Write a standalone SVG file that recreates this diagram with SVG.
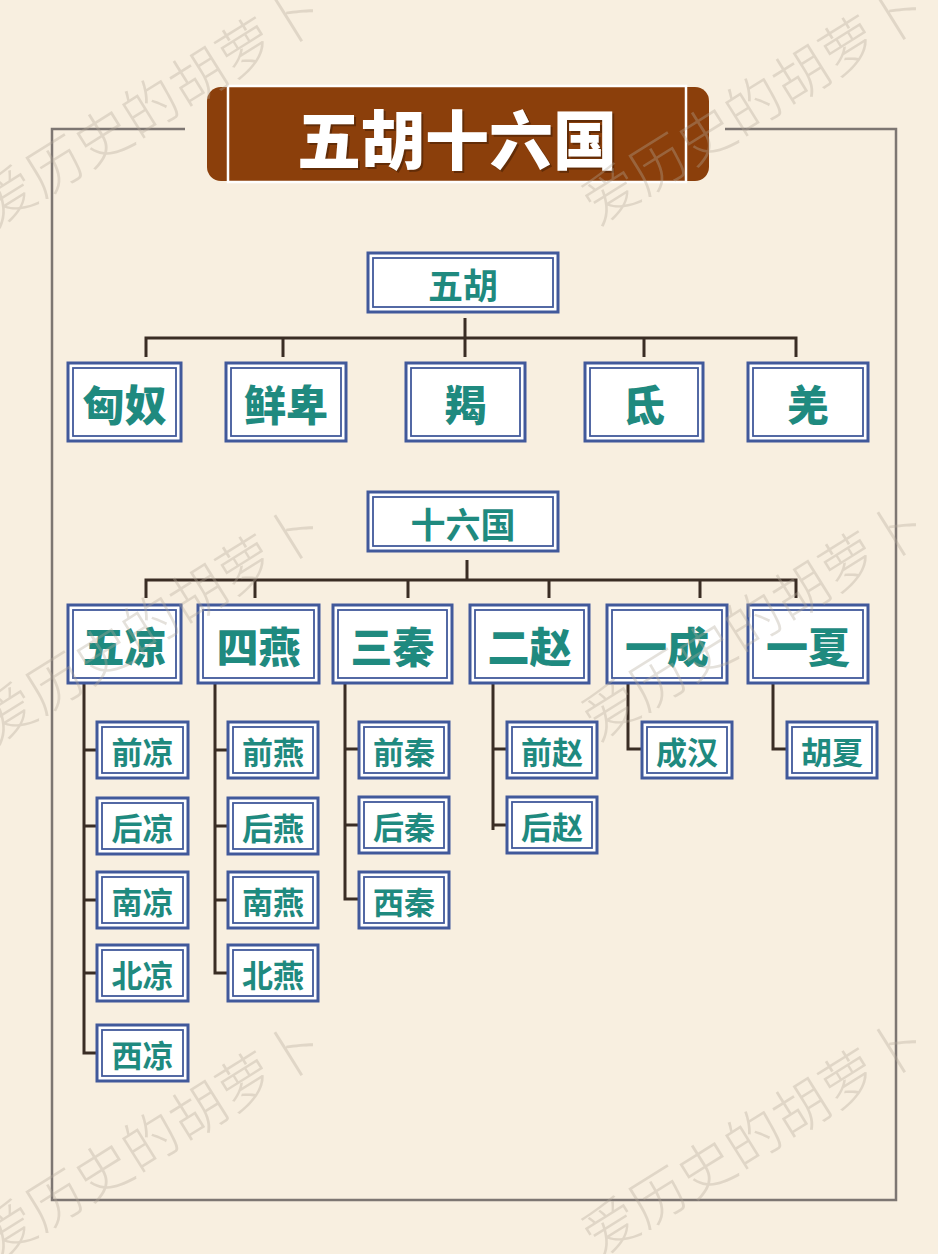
<svg xmlns="http://www.w3.org/2000/svg" width="938" height="1254" viewBox="0 0 938 1254">
<style>
.wm{font-family:"Noto Sans CJK SC","Noto Sans",sans-serif;font-size:56px;font-weight:300;fill:#b5aa9a;opacity:0.35}
.bo{fill:#ffffff;stroke:#41599b;stroke-width:3}
.bi{fill:none;stroke:#41599b;stroke-width:1.8}
.t{font-family:"Noto Sans CJK SC","Noto Sans",sans-serif;font-weight:700;fill:#1f8a7f;text-anchor:middle;dominant-baseline:central}
.t1{font-size:35px}
.t2{font-size:42px;font-weight:900}
.t3{font-size:31px}
.ln{fill:none;stroke:#3a2d24;stroke-width:3}
</style>
<rect x="0" y="0" width="938" height="1254" fill="#f8efe0"/>
<path d="M185 129 H52 V1200 H896 V129 H725" fill="none" stroke="#7d7672" stroke-width="2.5"/>
<g id="title">
<rect x="207" y="87" width="502" height="94" rx="14" fill="#8b3f0b"/>
<rect x="228" y="86" width="458" height="96" fill="#8b3f0b" stroke="#ffffff" stroke-width="2.5"/>
<text x="459" y="138" font-family="'Noto Sans CJK SC','Noto Sans',sans-serif" font-size="64" font-weight="900" fill="#3a1a05" opacity="0.5" text-anchor="middle" dominant-baseline="central">五胡十六国</text>
<text x="457" y="136" font-family="'Noto Sans CJK SC','Noto Sans',sans-serif" font-size="64" font-weight="900" fill="#ffffff" text-anchor="middle" dominant-baseline="central">五胡十六国</text>
</g>
<g id="connectors">
<path class="ln" d="M465 318 V338 M146 357 V338 H796 V357 M283 338 V357 M465 338 V357 M644 338 V357"/>
<path class="ln" d="M467 560 V580 M146 598 V580 H796 V598 M255 580 V598 M408 580 V598 M549 580 V598 M700 580 V598"/>
<path class="ln" d="M84 683 V1053 H97 M84 750 H97 M84 826 H97 M84 900 H97 M84 973 H97"/>
<path class="ln" d="M215 683 V973 H228 M215 750 H228 M215 826 H228 M215 900 H228"/>
<path class="ln" d="M345 683 V899 H359 M345 749 H359 M345 825 H359"/>
<path class="ln" d="M493 683 V830 M493 749 H507 M493 825 H507"/>
<path class="ln" d="M628 683 V749 H642"/>
<path class="ln" d="M773 683 V749 H787"/>
</g>
<g id="n-wuhu"><rect class="bo" x="368" y="253" width="190" height="59"/><rect class="bi" x="373" y="258" width="180" height="49"/><text class="t t1" x="463" y="283">五胡</text></g>
<g id="n-xiongnu"><rect class="bo" x="68" y="363" width="113" height="78"/><rect class="bi" x="73" y="368" width="103" height="68"/><text class="t t2" x="124.5" y="402">匈奴</text></g>
<g id="n-xianbei"><rect class="bo" x="226" y="363" width="120" height="78"/><rect class="bi" x="231" y="368" width="110" height="68"/><text class="t t2" x="286" y="402">鲜卑</text></g>
<g id="n-jie"><rect class="bo" x="406" y="363" width="119" height="78"/><rect class="bi" x="411" y="368" width="109" height="68"/><text class="t t2" x="465.5" y="402">羯</text></g>
<g id="n-di"><rect class="bo" x="585" y="363" width="118" height="78"/><rect class="bi" x="590" y="368" width="108" height="68"/><text class="t t2" x="644" y="402">氐</text></g>
<g id="n-qiang"><rect class="bo" x="748" y="363" width="120" height="78"/><rect class="bi" x="753" y="368" width="110" height="68"/><text class="t t2" x="808" y="402">羌</text></g>
<g id="n-shiliuguo"><rect class="bo" x="368" y="492" width="190" height="59"/><rect class="bi" x="373" y="497" width="180" height="49"/><text class="t t1" x="463" y="522">十六国</text></g>
<g id="n-wuliang"><rect class="bo" x="68" y="605" width="113" height="78"/><rect class="bi" x="73" y="610" width="103" height="68"/><text class="t t2" x="124.5" y="644">五凉</text></g>
<g id="n-siyan"><rect class="bo" x="198" y="605" width="121" height="78"/><rect class="bi" x="203" y="610" width="111" height="68"/><text class="t t2" x="258.5" y="644">四燕</text></g>
<g id="n-sanqin"><rect class="bo" x="333" y="605" width="119" height="78"/><rect class="bi" x="338" y="610" width="109" height="68"/><text class="t t2" x="392.5" y="644">三秦</text></g>
<g id="n-erzhao"><rect class="bo" x="470" y="605" width="119" height="78"/><rect class="bi" x="475" y="610" width="109" height="68"/><text class="t t2" x="529.5" y="644">二赵</text></g>
<g id="n-yicheng"><rect class="bo" x="607" y="605" width="120" height="78"/><rect class="bi" x="612" y="610" width="110" height="68"/><text class="t t2" x="667" y="644">一成</text></g>
<g id="n-yixia"><rect class="bo" x="748" y="605" width="120" height="78"/><rect class="bi" x="753" y="610" width="110" height="68"/><text class="t t2" x="808" y="644">一夏</text></g>
<g id="n-qianliang"><rect class="bo" x="97" y="722" width="91" height="56"/><rect class="bi" x="102" y="727" width="81" height="46"/><text class="t t3" x="142.5" y="750">前凉</text></g>
<g id="n-houliang"><rect class="bo" x="97" y="798" width="91" height="56"/><rect class="bi" x="102" y="803" width="81" height="46"/><text class="t t3" x="142.5" y="826">后凉</text></g>
<g id="n-nanliang"><rect class="bo" x="97" y="872" width="91" height="56"/><rect class="bi" x="102" y="877" width="81" height="46"/><text class="t t3" x="142.5" y="900">南凉</text></g>
<g id="n-beiliang"><rect class="bo" x="97" y="945" width="91" height="56"/><rect class="bi" x="102" y="950" width="81" height="46"/><text class="t t3" x="142.5" y="973">北凉</text></g>
<g id="n-xiliang"><rect class="bo" x="97" y="1025" width="91" height="56"/><rect class="bi" x="102" y="1030" width="81" height="46"/><text class="t t3" x="142.5" y="1053">西凉</text></g>
<g id="n-qianyan"><rect class="bo" x="228" y="722" width="90" height="56"/><rect class="bi" x="233" y="727" width="80" height="46"/><text class="t t3" x="273" y="750">前燕</text></g>
<g id="n-houyan"><rect class="bo" x="228" y="798" width="90" height="56"/><rect class="bi" x="233" y="803" width="80" height="46"/><text class="t t3" x="273" y="826">后燕</text></g>
<g id="n-nanyan"><rect class="bo" x="228" y="872" width="90" height="56"/><rect class="bi" x="233" y="877" width="80" height="46"/><text class="t t3" x="273" y="900">南燕</text></g>
<g id="n-beiyan"><rect class="bo" x="228" y="945" width="90" height="56"/><rect class="bi" x="233" y="950" width="80" height="46"/><text class="t t3" x="273" y="973">北燕</text></g>
<g id="n-qianqin"><rect class="bo" x="359" y="722" width="90" height="56"/><rect class="bi" x="364" y="727" width="80" height="46"/><text class="t t3" x="404" y="750">前秦</text></g>
<g id="n-houqin"><rect class="bo" x="359" y="797" width="90" height="56"/><rect class="bi" x="364" y="802" width="80" height="46"/><text class="t t3" x="404" y="825">后秦</text></g>
<g id="n-xiqin"><rect class="bo" x="359" y="872" width="90" height="56"/><rect class="bi" x="364" y="877" width="80" height="46"/><text class="t t3" x="404" y="900">西秦</text></g>
<g id="n-qianzhao"><rect class="bo" x="507" y="722" width="90" height="56"/><rect class="bi" x="512" y="727" width="80" height="46"/><text class="t t3" x="552" y="750">前赵</text></g>
<g id="n-houzhao"><rect class="bo" x="507" y="797" width="90" height="56"/><rect class="bi" x="512" y="802" width="80" height="46"/><text class="t t3" x="552" y="825">后赵</text></g>
<g id="n-chenghan"><rect class="bo" x="642" y="722" width="90" height="56"/><rect class="bi" x="647" y="727" width="80" height="46"/><text class="t t3" x="687" y="750">成汉</text></g>
<g id="n-huxia"><rect class="bo" x="787" y="722" width="90" height="56"/><rect class="bi" x="792" y="727" width="80" height="46"/><text class="t t3" x="832" y="750">胡夏</text></g>
<g id="watermarks">
<text class="wm" x="-5" y="228" transform="rotate(-32 -5 228)">爱历史的胡萝卜</text>
<text class="wm" x="598" y="226" transform="rotate(-32 598 226)">爱历史的胡萝卜</text>
<text class="wm" x="-5" y="745" transform="rotate(-32 -5 745)">爱历史的胡萝卜</text>
<text class="wm" x="598" y="742" transform="rotate(-32 598 742)">爱历史的胡萝卜</text>
<text class="wm" x="-5" y="1262" transform="rotate(-32 -5 1262)">爱历史的胡萝卜</text>
<text class="wm" x="598" y="1259" transform="rotate(-32 598 1259)">爱历史的胡萝卜</text>
</g>
</svg>
